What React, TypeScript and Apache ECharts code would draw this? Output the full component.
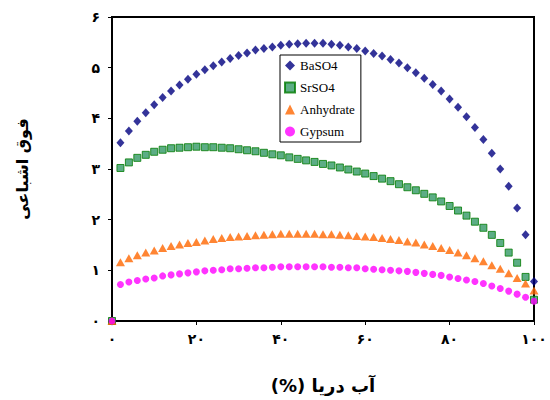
import React, { useEffect, useRef } from "react";
import * as echarts from "echarts";

const xValues = [0, 2, 4, 6, 8, 10, 12, 14, 16, 18, 20, 22, 24, 26, 28, 30, 32, 34, 36, 38, 40, 42, 44, 46, 48, 50, 52, 54, 56, 58, 60, 62, 64, 66, 68, 70, 72, 74, 76, 78, 80, 82, 84, 86, 88, 90, 92, 94, 96, 98, 100];

const baso4 = [0, 3.52, 3.75, 3.94, 4.11, 4.27, 4.41, 4.54, 4.66, 4.77, 4.87, 4.96, 5.04, 5.11, 5.18, 5.24, 5.29, 5.35, 5.38, 5.41, 5.44, 5.46, 5.47, 5.48, 5.48, 5.48, 5.46, 5.44, 5.41, 5.38, 5.33, 5.28, 5.23, 5.16, 5.09, 5.0, 4.9, 4.79, 4.67, 4.54, 4.38, 4.22, 4.03, 3.82, 3.58, 3.31, 3.0, 2.66, 2.23, 1.7, 0.78];

const srso4 = [0, 3.02, 3.13, 3.22, 3.28, 3.34, 3.38, 3.41, 3.42, 3.43, 3.44, 3.43, 3.43, 3.42, 3.41, 3.39, 3.37, 3.35, 3.32, 3.29, 3.27, 3.23, 3.2, 3.17, 3.14, 3.1, 3.07, 3.03, 2.99, 2.95, 2.91, 2.86, 2.81, 2.76, 2.7, 2.64, 2.58, 2.51, 2.44, 2.36, 2.27, 2.18, 2.08, 1.96, 1.84, 1.7, 1.54, 1.35, 1.15, 0.87, 0.42];

const anhydrate = [0, 1.16, 1.24, 1.3, 1.35, 1.39, 1.44, 1.48, 1.51, 1.54, 1.56, 1.59, 1.62, 1.64, 1.66, 1.67, 1.68, 1.69, 1.7, 1.71, 1.72, 1.72, 1.72, 1.72, 1.72, 1.71, 1.71, 1.7, 1.69, 1.68, 1.67, 1.66, 1.64, 1.62, 1.6, 1.57, 1.55, 1.51, 1.48, 1.44, 1.4, 1.35, 1.3, 1.24, 1.18, 1.1, 1.03, 0.94, 0.85, 0.74, 0.6];

const gypsum = [0, 0.72, 0.77, 0.8, 0.83, 0.85, 0.89, 0.91, 0.93, 0.95, 0.97, 0.99, 1.0, 1.01, 1.03, 1.03, 1.04, 1.05, 1.05, 1.06, 1.07, 1.07, 1.07, 1.07, 1.07, 1.07, 1.06, 1.06, 1.05, 1.05, 1.03, 1.02, 1.01, 1.0, 0.99, 0.98, 0.96, 0.94, 0.92, 0.9, 0.87, 0.84, 0.81, 0.78, 0.74, 0.69, 0.64, 0.59, 0.53, 0.47, 0.39];

const seriesNames = ["BaSO4", "SrSO4", "Anhydrate", "Gypsum"];
const xTickLabels = ["۰", "۲۰", "۴۰", "۶۰", "۸۰", "۱۰۰"];
const yTickLabels = ["۰", "۱", "۲", "۳", "۴", "۵", "۶"];
const xAxisTitle = "آب دریا (%)";
const yAxisTitle = "فوق اشباعی";

const pair = (ys: number[]) => xValues.map((x, i) => [x, ys[i]]);

export default function App() {
  const ref = useRef<HTMLDivElement>(null);
  useEffect(() => {
    if (!ref.current) return;
    const chart = echarts.init(ref.current, undefined, { renderer: "svg" });
    const persian = "DejaVu Sans";
    chart.setOption({
      animation: false,
      backgroundColor: "#fff",
      grid: {
        left: 112,
        right: 16,
        top: 17,
        bottom: 79,
        show: true,
        borderColor: "#000",
        borderWidth: 2,
      },
      legend: {
        orient: "vertical",
        left: 280,
        top: 55,
        backgroundColor: "#fff",
        borderColor: "#000",
        borderWidth: 1,
        borderRadius: 0,
        padding: [4, 6, 4, 4],
        itemGap: 9,
        itemWidth: 10,
        itemHeight: 10,
        data: seriesNames,
        textStyle: { fontFamily: "Liberation Serif", fontSize: 13, color: "#000" },
      },
      xAxis: {
        type: "value",
        min: 0,
        max: 100,
        interval: 20,
        name: xAxisTitle + "\u200F",
        nameLocation: "middle",
        nameGap: 55,
        nameTextStyle: { fontFamily: persian, fontSize: 18, fontWeight: "bold", color: "#000" },
        axisLine: { lineStyle: { color: "#000", width: 2 } },
        axisTick: { show: true, inside: false, length: 4, lineStyle: { color: "#000", width: 1 } },
        axisLabel: {
          margin: 11,
          fontFamily: persian,
          fontWeight: "bold",
          fontSize: 14,
          color: "#000",
          formatter: (v: number) => xTickLabels[Math.round(v / 20)] ?? "",
        },
        splitLine: { show: false },
      },
      yAxis: {
        type: "value",
        min: 0,
        max: 6,
        interval: 1,
        name: yAxisTitle,
        nameLocation: "middle",
        nameRotate: 90,
        nameGap: 82,
        nameTextStyle: { fontFamily: persian, fontSize: 16, fontWeight: "bold", color: "#000" },
        axisLine: { show: true, lineStyle: { color: "#000", width: 2 } },
        axisTick: { show: true, inside: false, length: 4, lineStyle: { color: "#000", width: 1 } },
        axisLabel: {
          margin: 12,
          fontFamily: persian,
          fontWeight: "bold",
          fontSize: 14,
          color: "#000",
          formatter: (v: number) => yTickLabels[Math.round(v)] ?? "",
        },
        splitLine: { show: false },
      },
      series: [
        {
          name: seriesNames[0],
          type: "scatter",
          data: pair(baso4),
          symbol: "diamond",
          symbolSize: [8, 9],
          itemStyle: { color: "#000080" },
        },
        {
          name: seriesNames[1],
          type: "scatter",
          data: pair(srso4),
          symbol: "rect",
          symbolSize: 7,
          itemStyle: { color: "#339966", borderColor: "#007A00", borderWidth: 1 },
        },
        {
          name: seriesNames[2],
          type: "scatter",
          data: pair(anhydrate),
          symbol: "triangle",
          symbolSize: [9, 8],
          itemStyle: { color: "#FF6600" },
        },
        {
          name: seriesNames[3],
          type: "scatter",
          data: pair(gypsum),
          symbol: "circle",
          symbolSize: 7,
          itemStyle: { color: "#FF00FF" },
        },
      ],
    });
    return () => chart.dispose();
  }, []);
  return (
    <div
      ref={ref}
      style={{ position: "fixed", left: 0, top: 0, width: 550, height: 400 }}
    />
  );
}
